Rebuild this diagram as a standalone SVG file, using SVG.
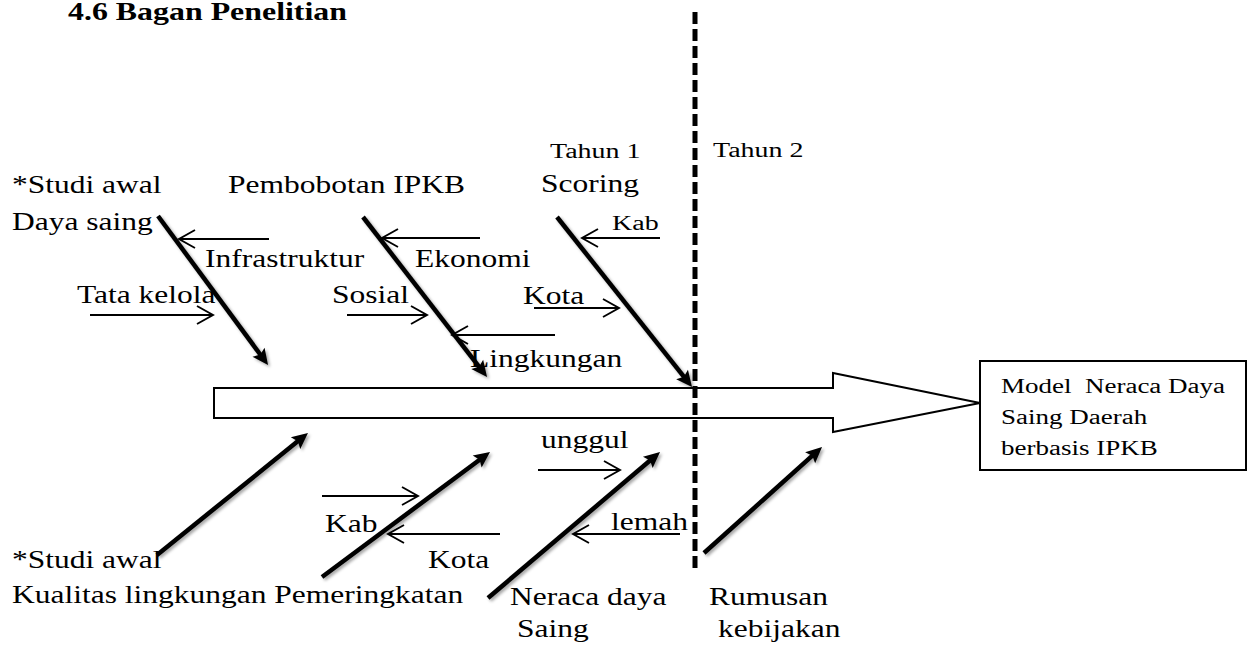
<svg xmlns="http://www.w3.org/2000/svg" width="1254" height="648" viewBox="0 0 1254 648">
<style>
text{font-family:"Liberation Serif","Times New Roman",serif;fill:#000;}
.t{font-size:31.5px;}
.s{font-size:28px;}
.b{font-size:27px;white-space:pre;}
.title{font-size:31.9px;font-weight:bold;}
.thin{stroke:#000;stroke-width:1.9;fill:none;marker-end:url(#open);}
.thick{stroke:#000;stroke-width:4.5;fill:none;marker-end:url(#solid);}
.shape{fill:#fff;stroke:#000;stroke-width:2;}
</style>
<defs>
<marker id="open" markerUnits="userSpaceOnUse" markerWidth="20" markerHeight="20" refX="17" refY="9.5" orient="auto" overflow="visible">
<path d="M1,0.5 L17,9.5 L1,18.5" fill="none" stroke="#000" stroke-width="1.9"/>
</marker>
<marker id="solid" markerUnits="userSpaceOnUse" markerWidth="20" markerHeight="16" refX="6" refY="7.5" orient="auto" overflow="visible">
<path d="M0,0 L16,7.5 L0,15 L3,7.5 Z" fill="#000"/>
</marker>
<filter id="sh" x="-20%" y="-20%" width="140%" height="140%">
<feDropShadow dx="2" dy="2" stdDeviation="1.5" flood-color="#000" flood-opacity="0.35"/>
</filter>
</defs>
<rect width="1254" height="648" fill="#fff"/>

<g id="title"><text class="title" transform="translate(68 20) scale(1 0.78)">4.6 Bagan Penelitian</text></g>

<g id="spine"><polygon class="shape" points="214,388 833,388 833,373 980,403 833,432 833,418 214,418"/></g>

<g id="model">
<rect class="shape" x="980" y="361" width="266" height="109"/>
<text class="b" xml:space="preserve" transform="translate(1001 393) scale(1 0.78)">Model  Neraca Daya</text>
<text class="b" transform="translate(1001 424) scale(1 0.78)">Saing Daerah</text>
<text class="b" transform="translate(1001 455) scale(1 0.78)">berbasis IPKB</text>
</g>

<g id="studi-daya-saing">
<text class="t" transform="translate(12 193) scale(1 0.78)">*Studi awal</text>
<text class="t" transform="translate(12 230) scale(1 0.78)">Daya saing</text>
</g>
<g id="pembobotan"><text class="t" transform="translate(228 193) scale(1 0.78)">Pembobotan IPKB</text></g>
<g id="tahun1"><text class="s" transform="translate(550 158) scale(1 0.78)">Tahun 1</text></g>
<g id="scoring"><text class="t" transform="translate(541 192) scale(1 0.78)">Scoring</text></g>
<g id="tahun2"><text class="s" transform="translate(713 157) scale(1 0.78)">Tahun 2</text></g>
<g id="infrastruktur"><text class="t" transform="translate(205 267) scale(1 0.78)">Infrastruktur</text></g>
<g id="ekonomi"><text class="t" transform="translate(415 267) scale(1 0.78)">Ekonomi</text></g>
<g id="kab-top"><text class="s" transform="translate(612 230) scale(1 0.78)">Kab</text></g>
<g id="tata-kelola"><text class="t" transform="translate(77 303) scale(1 0.78)">Tata kelola</text></g>
<g id="sosial"><text class="t" transform="translate(332 303) scale(1 0.78)">Sosial</text></g>
<g id="kota-top"><text class="t" transform="translate(523 304) scale(1 0.78)">Kota</text></g>
<g id="lingkungan"><text class="t" transform="translate(470 367) scale(1 0.78)">Lingkungan</text></g>
<g id="unggul"><text class="t" transform="translate(541 448) scale(1 0.78)">unggul</text></g>
<g id="kab-bottom"><text class="t" transform="translate(325 532) scale(1 0.78)">Kab</text></g>
<g id="lemah"><text class="t" transform="translate(611 530) scale(1 0.78)">lemah</text></g>
<g id="studi-kualitas">
<text class="t" transform="translate(12 568) scale(1 0.78)">*Studi awal</text>
<text class="t" transform="translate(12 603) scale(1 0.78)">Kualitas lingkungan Pemeringkatan</text>
</g>
<g id="kota-bottom"><text class="t" transform="translate(428 568) scale(1 0.78)">Kota</text></g>
<g id="neraca">
<text class="t" transform="translate(510 605) scale(1 0.78)">Neraca daya</text>
<text class="t" transform="translate(517 637) scale(1 0.78)">Saing</text>
</g>
<g id="rumusan">
<text class="t" transform="translate(709 605) scale(1 0.78)">Rumusan</text>
<text class="t" transform="translate(718 637) scale(1 0.78)">kebijakan</text>
</g>

<g id="connectors">
<g id="thin-arrows">
<line class="thin" x1="269" y1="239" x2="179" y2="239"/>
<line class="thin" x1="90" y1="315" x2="213" y2="315"/>
<line class="thin" x1="480" y1="238" x2="382" y2="238"/>
<line class="thin" x1="347" y1="315" x2="427" y2="315"/>
<line class="thin" x1="555" y1="335" x2="452" y2="335"/>
<line class="thin" x1="660" y1="238" x2="582" y2="238"/>
<line class="thin" x1="534" y1="308" x2="619" y2="308"/>
<line class="thin" x1="322" y1="496" x2="418" y2="496"/>
<line class="thin" x1="500" y1="534" x2="388" y2="534"/>
<line class="thin" x1="538" y1="470" x2="620" y2="470"/>
<line class="thin" x1="680" y1="534" x2="573" y2="534"/>
</g>
<g id="thick-arrows" filter="url(#sh)">
<line class="thick" x1="158" y1="216" x2="262.1" y2="357"/>
<line class="thick" x1="363" y1="217" x2="480.9" y2="369.1"/>
<line class="thick" x1="557" y1="217" x2="685.8" y2="379.2"/>
<line class="thick" x1="157" y1="555" x2="300.2" y2="439.3"/>
<line class="thick" x1="322" y1="577" x2="482" y2="458"/>
<line class="thick" x1="488" y1="598" x2="652.4" y2="458.5"/>
<line class="thick" x1="704" y1="553" x2="814.6" y2="453.7"/>
</g>
</g>

<g id="divider"><line x1="695" y1="12" x2="695" y2="573" stroke="#000" stroke-width="5" stroke-dasharray="12 5"/></g>
</svg>
